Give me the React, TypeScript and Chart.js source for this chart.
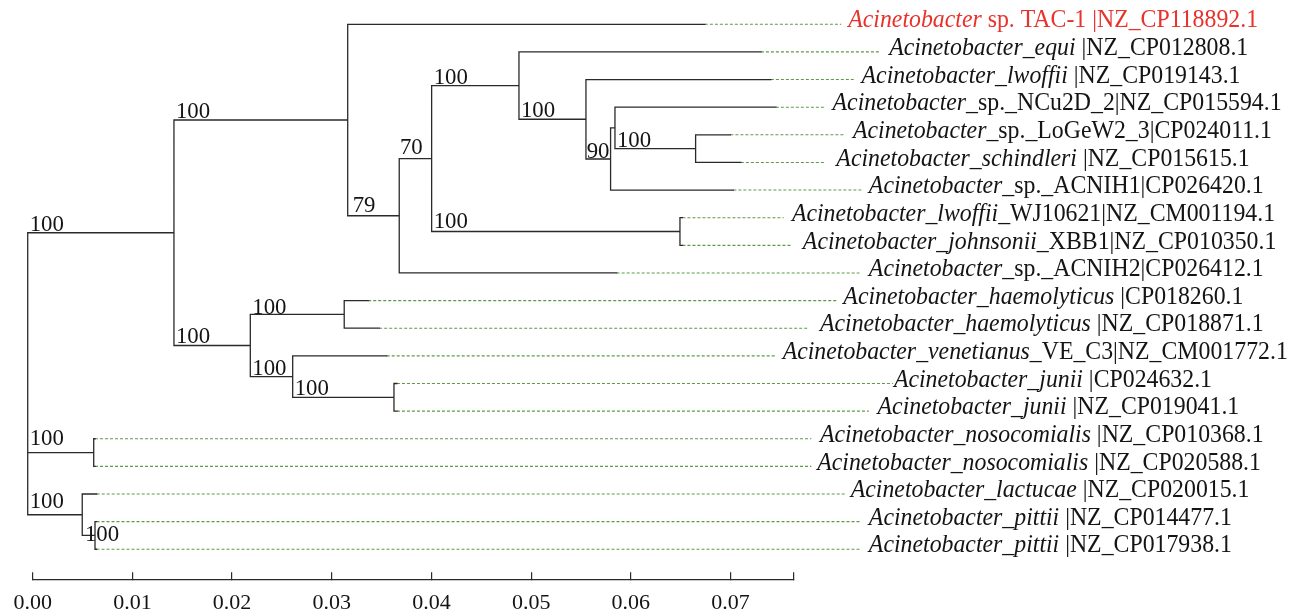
import React, { useEffect, useRef } from 'react';
import { Chart, registerables } from 'chart.js';

Chart.register(...registerables);

const FONT = "'Liberation Serif', 'Times New Roman', serif";

// ---- scale bar ----
const axisTicks = [0, 0.01, 0.02, 0.03, 0.04, 0.05, 0.06, 0.07];
const axisMax = 0.0763;

// ---- leaves (top to bottom) ----
const leafItalic = [
  'Acinetobacter',
  'Acinetobacter_equi',
  'Acinetobacter_lwoffii',
  'Acinetobacter',
  'Acinetobacter',
  'Acinetobacter_schindleri',
  'Acinetobacter',
  'Acinetobacter_lwoffii',
  'Acinetobacter_johnsonii',
  'Acinetobacter',
  'Acinetobacter_haemolyticus',
  'Acinetobacter_haemolyticus',
  'Acinetobacter_venetianus',
  'Acinetobacter_junii',
  'Acinetobacter_junii',
  'Acinetobacter_nosocomialis',
  'Acinetobacter_nosocomialis',
  'Acinetobacter_lactucae',
  'Acinetobacter_pittii',
  'Acinetobacter_pittii',
];
const leafRest = [
  ' sp. TAC-1 |NZ_CP118892.1',
  ' |NZ_CP012808.1',
  ' |NZ_CP019143.1',
  '_sp._NCu2D_2|NZ_CP015594.1',
  '_sp._LoGeW2_3|CP024011.1',
  ' |NZ_CP015615.1',
  '_sp._ACNIH1|CP026420.1',
  '_WJ10621|NZ_CM001194.1',
  '_XBB1|NZ_CP010350.1',
  '_sp._ACNIH2|CP026412.1',
  ' |CP018260.1',
  ' |NZ_CP018871.1',
  '_VE_C3|NZ_CM001772.1',
  ' |CP024632.1',
  ' |NZ_CP019041.1',
  ' |NZ_CP010368.1',
  ' |NZ_CP020588.1',
  ' |NZ_CP020015.1',
  ' |NZ_CP014477.1',
  ' |NZ_CP017938.1',
];
const highlightLeaf = 0;
// distance at which each leaf's solid branch ends
const leafTip = [
  0.06743, 0.07305, 0.07405, 0.07455, 0.06999, 0.07104, 0.07029, 0.06518, 0.06518, 0.05858,
  0.03366, 0.03476, 0.03551, 0.03654, 0.03654, 0.00625, 0.00625, 0.00642, 0.0064, 0.0064,
];
// where each dotted guide line ends
const leafDashEnd = [
  0.08112, 0.08507, 0.08236, 0.07947, 0.08137, 0.07957, 0.08325, 0.07534, 0.07619, 0.08294,
  0.08062, 0.07784, 0.07445, 0.0863, 0.08388, 0.07811, 0.07811, 0.08157, 0.08313, 0.08313,
];
// where each leaf name starts
const leafLabelX = [
  0.08181, 0.08592, 0.08315, 0.08024, 0.08228, 0.08062, 0.08388, 0.07616, 0.07726, 0.08388,
  0.08132, 0.07897, 0.07523, 0.08639, 0.08475, 0.07897, 0.0787, 0.08206, 0.08388, 0.08388,
];

// ---- internal nodes ----
const nodeIds = ['root', 'A', 'B', 'C', 'D', 'E', 'G', 'H', 'I', 'J', 'F', 'K', 'Lh', 'M', 'N', 'O', 'P', 'Q'];
const nodeDist = [
  -0.0005, 0.01417, 0.0316, 0.03677, 0.04002, 0.04878, 0.0555, 0.05797, 0.05841, 0.0665, 0.06493,
  0.02183, 0.03125, 0.02608, 0.03624, 0.00612, 0.00497, 0.00625,
];
const nodeChildren = [
  ['A', 'O', 'P'],
  ['B', 'K'],
  ['t1', 'C'],
  ['D', 't10'],
  ['E', 'F'],
  ['t2', 'G'],
  ['t3', 'H'],
  ['I', 't7'],
  ['t4', 'J'],
  ['t5', 't6'],
  ['t8', 't9'],
  ['Lh', 'M'],
  ['t11', 't12'],
  ['t13', 'N'],
  ['t14', 't15'],
  ['t16', 't17'],
  ['t18', 'Q'],
  ['t19', 't20'],
];
const nodeSupport = [null, 100, 100, 79, 70, 100, 100, 90, null, 100, 100, 100, 100, 100, 100, 100, 100, 100];

// label nudges (px) for support values: [dx, dy]
const supportNudge: Record<string, [number, number]> = {
  C: [5, -3.7],
  D: [0.7, -5],
  F: [2, -4],
  H: [0.7, -0.5],
  Lh: [2, -0.5],
  O: [2, -7.5],
  P: [2, -7],
  Q: [2.7, 5.7],
};

const LINE = '#2a2a2a';
const GREEN = '#5f9a48';
const RED = '#e8322c';
const TEXT = '#141414';

export default function App() {
  const ref = useRef<HTMLCanvasElement>(null);

  useEffect(() => {
    const X: Record<string, number> = {};
    const Y: Record<string, number> = {};
    const leafIds = leafItalic.map((_, i) => 't' + (i + 1));
    leafIds.forEach((id, i) => {
      X[id] = leafTip[i];
      Y[id] = i + 1;
    });
    nodeIds.forEach((id, i) => {
      X[id] = nodeDist[i];
    });
    const yOf = (id: string): number => {
      if (Y[id] !== undefined) return Y[id];
      const ch = nodeChildren[nodeIds.indexOf(id)];
      const v = (yOf(ch[0]) + yOf(ch[ch.length - 1])) / 2;
      Y[id] = v;
      return v;
    };
    nodeIds.forEach(yOf);

    const branchPts: any[] = [];
    nodeIds.forEach((id, i) => {
      const ch = nodeChildren[i];
      const f = ch[0];
      const l = ch[ch.length - 1];
      branchPts.push(
        { x: X[f], y: Y[f] },
        { x: X[id], y: Y[f] },
        { x: X[id], y: Y[l] },
        { x: X[l], y: Y[l] },
        { x: X[l], y: null }
      );
      ch.slice(1, -1).forEach((c) => {
        branchPts.push({ x: X[id], y: Y[c] }, { x: X[c], y: Y[c] }, { x: X[c], y: null });
      });
    });

    const dashPts: any[] = [];
    leafIds.forEach((id, i) => {
      dashPts.push({ x: leafTip[i], y: i + 1 }, { x: leafDashEnd[i], y: i + 1 }, { x: leafDashEnd[i], y: null });
    });

    const parentOf = (id: string) => nodeChildren.findIndex((ch) => ch.includes(id));

    const textPlugin = {
      id: 'treeText',
      afterDatasetsDraw(chart: any) {
        const { ctx } = chart;
        const xs = chart.scales.x;
        const ys = chart.scales.y;
        ctx.save();
        ctx.textAlign = 'left';
        ctx.textBaseline = 'alphabetic';
        leafIds.forEach((id, i) => {
          const px = xs.getPixelForValue(leafLabelX[i]);
          const py = ys.getPixelForValue(i + 1) + 3.2;
          ctx.save();
          ctx.translate(px, py);
          ctx.scale(0.952, 1);
          ctx.fillStyle = i === highlightLeaf ? RED : TEXT;
          ctx.font = `italic 25px ${FONT}`;
          ctx.fillText(leafItalic[i], 0, 0);
          const w = ctx.measureText(leafItalic[i]).width;
          ctx.font = `25px ${FONT}`;
          ctx.fillText(leafRest[i], w, 0);
          ctx.restore();
        });
        nodeIds.forEach((id, i) => {
          const s = nodeSupport[i];
          if (s == null) return;
          const p = parentOf(id);
          if (p < 0) return;
          const [dx, dy] = supportNudge[id] || [2, -2];
          const px = xs.getPixelForValue(nodeDist[p]) + dx;
          const py = ys.getPixelForValue(Y[id]) + dy;
          ctx.save();
          ctx.translate(px, py);
          ctx.scale(0.95, 1);
          ctx.fillStyle = TEXT;
          ctx.font = `24px ${FONT}`;
          ctx.fillText(String(s), 0, 0);
          ctx.restore();
        });
        ctx.restore();
      },
    };

    const chart = new Chart(ref.current as HTMLCanvasElement, {
      type: 'line',
      data: {
        datasets: [
          {
            data: branchPts,
            borderColor: LINE,
            borderWidth: 1.3,
            pointRadius: 0,
            spanGaps: false,
            clip: false as any,
            borderJoinStyle: 'miter',
            borderCapStyle: 'square',
          },
          {
            data: dashPts,
            borderColor: GREEN,
            borderWidth: 1.1,
            borderDash: [3, 2],
            pointRadius: 0,
            spanGaps: false,
            clip: false as any,
          },
        ],
      },
      options: {
        animation: false,
        responsive: true,
        maintainAspectRatio: false,
        events: [],
        layout: { padding: { left: 32.7, right: 507.7, top: 16, bottom: 0 } },
        plugins: { legend: { display: false }, tooltip: { enabled: false } },
        scales: {
          x: {
            type: 'linear',
            position: 'bottom',
            min: 0,
            max: axisMax,
            afterBuildTicks: (scale: any) => {
              scale.ticks = [...axisTicks, axisMax].map((value) => ({ value }));
            },
            afterFit: (scale: any) => {
              scale.height = 34.7;
              scale.paddingLeft = 0;
              scale.paddingRight = 0;
              scale.paddingTop = 0;
              scale.paddingBottom = 0;
            },
            grid: {
              display: true,
              drawOnChartArea: false,
              drawTicks: true,
              tickLength: -7,
              color: LINE,
              lineWidth: 1.2,
            },
            border: { display: true, color: LINE, width: 1.2 },
            ticks: {
              autoSkip: false,
              maxRotation: 0,
              minRotation: 0,
              padding: 19.7,
              color: TEXT,
              font: { family: FONT, size: 22, lineHeight: 1 },
              callback: (v: any) => (axisTicks.includes(v) ? Number(v).toFixed(2) : ''),
            },
          },
          y: {
            type: 'linear',
            display: false,
            reverse: true,
            min: 0.7,
            max: 21.087,
            afterFit: (scale: any) => {
              scale.width = 0;
              scale.paddingLeft = 0;
              scale.paddingRight = 0;
              scale.paddingTop = 0;
              scale.paddingBottom = 0;
            },
          },
        },
      },
      plugins: [textPlugin],
    });
    return () => chart.destroy();
  }, []);

  return (
    <div style={{ position: 'fixed', left: 0, top: 0, width: '1301px', height: '614px', background: '#fff' }}>
      <canvas ref={ref} />
    </div>
  );
}
